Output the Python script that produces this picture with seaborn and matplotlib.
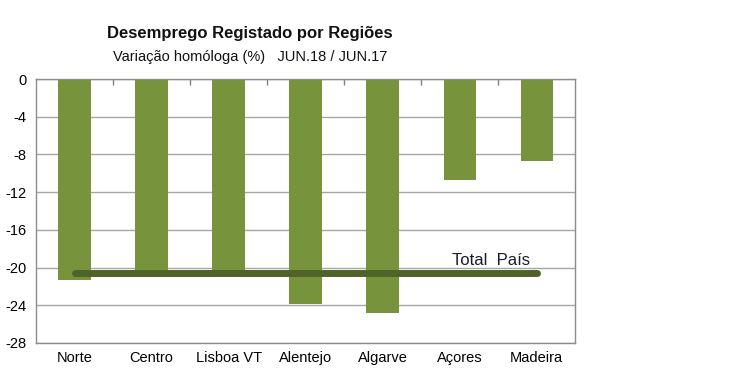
import matplotlib
matplotlib.use("Agg")
import matplotlib.pyplot as plt
import seaborn as sns
import pandas as pd
import numpy as np

regions = ["Norte", "Centro", "Lisboa VT", "Alentejo", "Algarve", "Açores", "Madeira"]
values = [-21.3, -20.3, -21.0, -23.9, -24.8, -10.7, -8.7]
total_pais = -20.6
total_label = "Total  País"
yticks = [0, -4, -8, -12, -16, -20, -24, -28]
title = "Desemprego Registado por Regiões"
subtitle = "Variação homóloga (%)   JUN.18 / JUN.17"

sns.set_theme(style="white")
plt.rcParams["font.family"] = ["Liberation Sans", "DejaVu Sans"]

df = pd.DataFrame({"region": regions, "value": values})

fig = plt.figure(figsize=(7.5, 3.91), dpi=100)
ax = fig.add_axes([0.048, 0.1228, 0.719, 0.675])

ax.set_axisbelow(True)
ax.yaxis.grid(True, color="#a6a6a6", linewidth=1.0)
sns.barplot(data=df, x="region", y="value", color="#77933C", width=0.42,
            saturation=1, ax=ax, edgecolor="none")

ax.plot([0, 6], [total_pais, total_pais], color="#4F6228", linewidth=5,
        solid_capstyle="round", zorder=5)
ax.text(5.4, total_pais + 0.55, total_label, ha="center", va="bottom",
        fontsize=12, color="#1a1a2e", zorder=6)

ax.set_ylim(-28, 0)
ax.set_xlim(-0.5, 6.5)
ax.set_yticks(yticks)
ax.set_yticklabels([str(t) for t in yticks])
ax.set_xlabel("")
ax.set_ylabel("")
ax.tick_params(axis="both", labelsize=10.5, colors="#000000", length=0, pad=6)
ax.tick_params(axis="y", pad=7)
ax.set_xticks(range(len(regions)))
ax.set_xticklabels(regions)
ax.set_xticks(np.arange(0.5, 6.5, 1.0), minor=True)
ax.tick_params(axis="x", which="minor", top=True, bottom=False, direction="in",
               length=4, color="#808080", width=1)

for s in ["left", "right", "bottom", "top"]:
    ax.spines[s].set_visible(True)
    ax.spines[s].set_color("#8c8c8c")
    ax.spines[s].set_linewidth(1.0)

fig.text(0.333, 0.915, title, ha="center", va="center", fontsize=12,
         fontweight="bold", color="#111111", family=["Liberation Sans", "DejaVu Sans"])
fig.text(0.333, 0.853, subtitle, ha="center", va="center", fontsize=10.5,
         color="#111111", family=["Liberation Sans", "DejaVu Sans"])

fig.savefig("out.png", dpi=100)
